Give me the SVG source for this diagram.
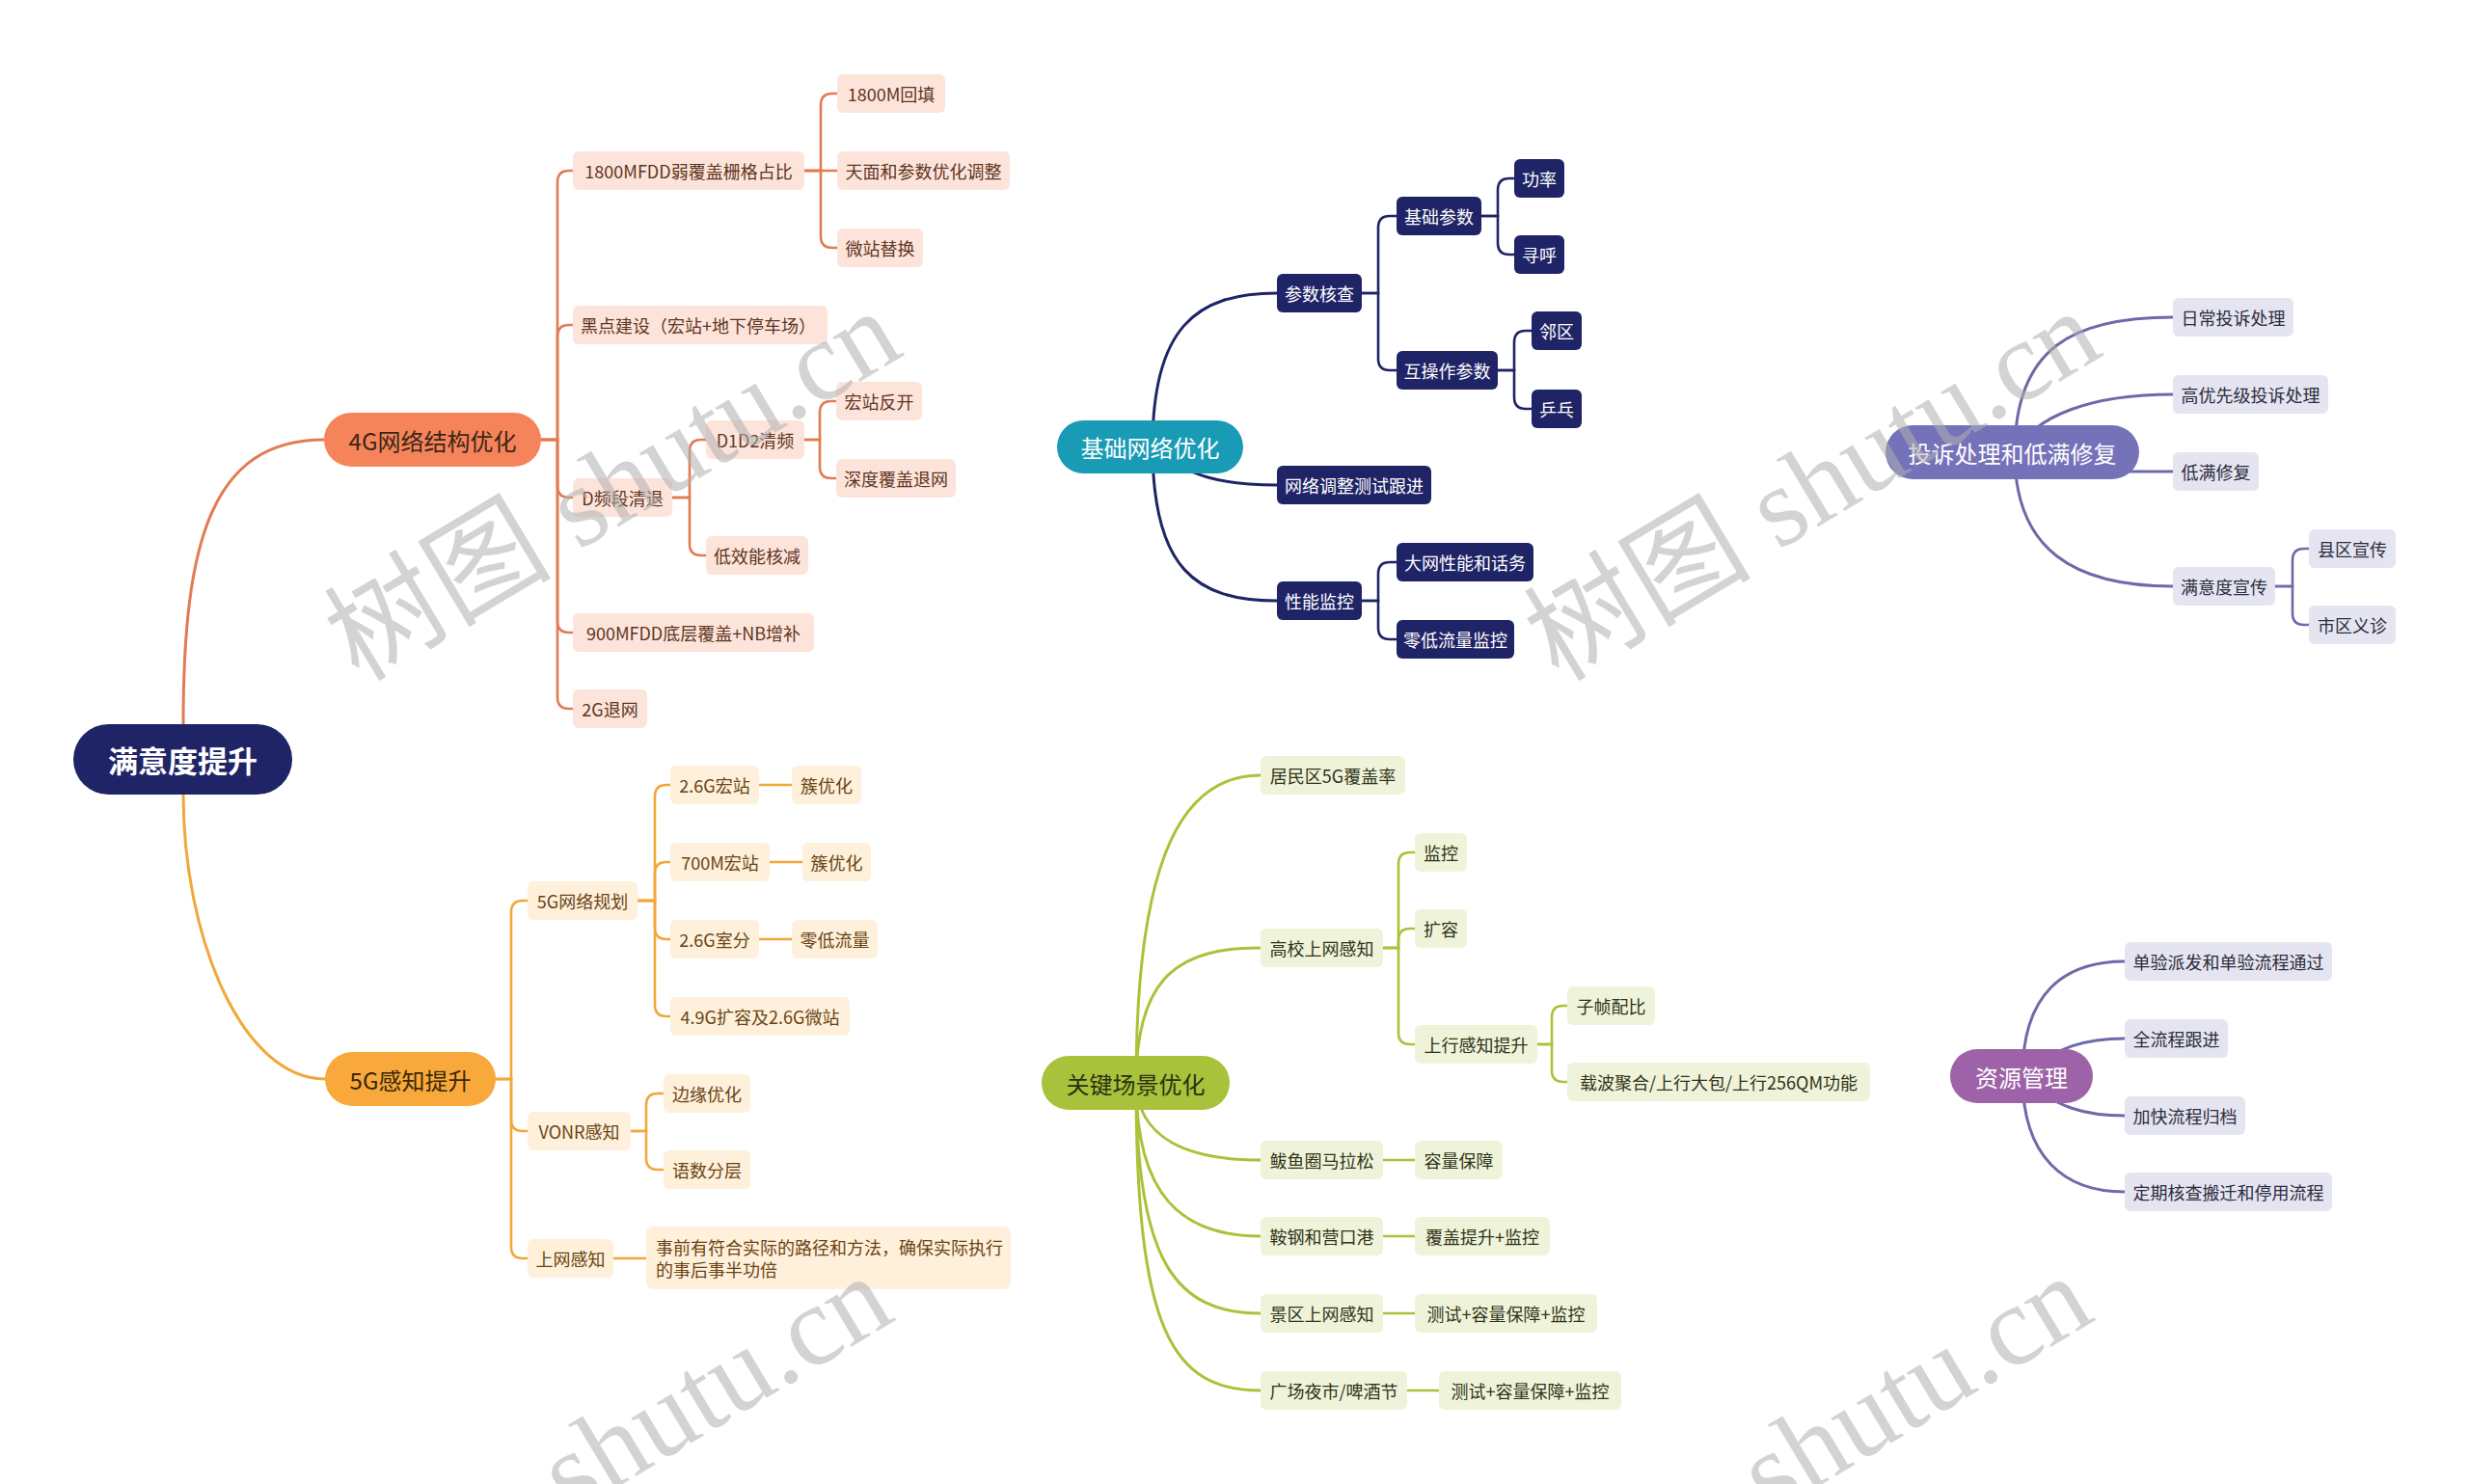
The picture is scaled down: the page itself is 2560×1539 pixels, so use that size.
<svg xmlns="http://www.w3.org/2000/svg" width="2560" height="1539" viewBox="0 0 2560 1539">
<style>
text{font-family:"Noto Sans CJK SC","Noto Sans",sans-serif;dominant-baseline:central;text-anchor:middle}
.s{font-size:18px}
.tp{font-size:24px}
.l{fill:none;stroke-width:2.6;stroke-linecap:round}
.L{fill:none;stroke-width:3;stroke-linecap:round}
.c4{stroke:#e27b52}.c5{stroke:#f2a73a}.cb{stroke:#1f2466}.ck{stroke:#a9c23a}.cp{stroke:#6d6aa9}
.f4 rect{fill:#fde4da}.f4 text{fill:#5e3522}
.f5 rect{fill:#fef0da}.f5 text{fill:#6a4414}
.fb rect{fill:#1f2466}.fb text{fill:#ffffff}
.fk rect{fill:#eff3da}.fk text{fill:#2f3318}
.fp rect{fill:#e5e4f1}.fp text{fill:#2c2c3c}
.wm{font-family:"Liberation Serif","Noto Sans CJK SC",serif;font-size:118px;fill:#b0b0b0;opacity:0.55;text-anchor:start;dominant-baseline:alphabetic}
</style>
<rect width="2560" height="1539" fill="#ffffff"/>
<g id="connectors">
<path class="L c4" d="M190,751 C190,560 220,456 336,456"/>
<path class="L c5" d="M190,824 C190,970 250,1119 337,1119"/>
<g class="l c4">
<path d="M561,456 H578 V189 Q578,177 590,177 H594"/>
<path d="M561,456 H578 V349 Q578,337 590,337 H594"/>
<path d="M561,456 H578 V504 Q578,516 590,516 H594"/>
<path d="M561,456 H578 V644 Q578,656 590,656 H594"/>
<path d="M561,456 H578 V723 Q578,735 590,735 H594"/>
<path d="M834,177 H851 V109 Q851,97 863,97 H868"/>
<path d="M834,177 H868"/>
<path d="M834,177 H851 V245 Q851,257 863,257 H868"/>
<path d="M697,516 H715 V468 Q715,456 727,456 H732"/>
<path d="M697,516 H715 V564 Q715,576 727,576 H732"/>
<path d="M834,456 H850 V428 Q850,416 862,416 H867"/>
<path d="M834,456 H850 V484 Q850,496 862,496 H867"/>
</g>
<g class="l c5">
<path d="M514,1119 H530 V946 Q530,934 542,934 H547"/>
<path d="M514,1119 H530 V1161 Q530,1173 542,1173 H547"/>
<path d="M514,1119 H530 V1293 Q530,1305 542,1305 H547"/>
<path d="M661,934 H679 V826 Q679,814 691,814 H695"/>
<path d="M661,934 H679 V906 Q679,894 691,894 H695"/>
<path d="M661,934 H679 V962 Q679,974 691,974 H695"/>
<path d="M661,934 H679 V1042 Q679,1054 691,1054 H695"/>
<path d="M787,814 H821"/>
<path d="M798,894 H832"/>
<path d="M787,974 H821"/>
<path d="M654,1173 H670 V1146 Q670,1134 682,1134 H688"/>
<path d="M654,1173 H670 V1201 Q670,1213 682,1213 H688"/>
<path d="M636,1305 H670"/>
</g>
<g class="cb">
<path class="L" d="M1195,463 C1195,340 1240,304 1324,304"/>
<path class="L" d="M1195,463 C1230,495 1270,503 1324,503"/>
<path class="L" d="M1195,463 C1195,590 1240,623 1324,623"/>
<g class="l">
<path d="M1412,304 H1429 V236 Q1429,224 1441,224 H1448"/>
<path d="M1412,304 H1429 V372 Q1429,384 1441,384 H1448"/>
<path d="M1536,224 H1553 V197 Q1553,185 1565,185 H1570"/>
<path d="M1536,224 H1553 V252 Q1553,264 1565,264 H1570"/>
<path d="M1553,384 H1570 V355 Q1570,343 1582,343 H1588"/>
<path d="M1553,384 H1570 V412 Q1570,424 1582,424 H1588"/>
<path d="M1412,623 H1429 V595 Q1429,583 1441,583 H1448"/>
<path d="M1412,623 H1429 V651 Q1429,663 1441,663 H1448"/>
</g>
</g>
<g class="ck">
<path class="L" d="M1178,1123 C1178,880 1230,804 1307,804"/>
<path class="L" d="M1178,1123 C1178,1010 1225,983 1307,983"/>
<path class="L" d="M1178,1123 C1180,1180 1230,1203 1307,1203"/>
<path class="L" d="M1178,1123 C1178,1240 1225,1282 1307,1282"/>
<path class="L" d="M1178,1123 C1178,1310 1220,1362 1307,1362"/>
<path class="L" d="M1178,1123 C1178,1380 1215,1442 1307,1442"/>
<g class="l">
<path d="M1434,983 H1450 V896 Q1450,884 1462,884 H1467"/>
<path d="M1434,983 H1450 V975 Q1450,963 1462,963 H1467"/>
<path d="M1434,983 H1450 V1071 Q1450,1083 1462,1083 H1467"/>
<path d="M1594,1083 H1609 V1055 Q1609,1043 1621,1043 H1625"/>
<path d="M1594,1083 H1609 V1110 Q1609,1122 1621,1122 H1625"/>
<path d="M1434,1203 H1467"/>
<path d="M1434,1282 H1467"/>
<path d="M1434,1362 H1467"/>
<path d="M1459,1442 H1492"/>
</g>
</g>
<g class="cp">
<path class="L" d="M2089,470 C2089,360 2150,329 2253,329"/>
<path class="L" d="M2089,470 C2110,430 2170,409 2253,409"/>
<path class="L" d="M2180,489 H2253"/>
<path class="L" d="M2089,470 C2089,570 2150,608 2253,608"/>
<path class="l" d="M2359,608 H2377 V581 Q2377,569 2389,569 H2394"/>
<path class="l" d="M2359,608 H2377 V636 Q2377,648 2389,648 H2394"/>
<path class="L" d="M2097,1116 C2097,1030 2140,997 2203,997"/>
<path class="L" d="M2097,1116 C2130,1085 2165,1077 2203,1077"/>
<path class="L" d="M2097,1116 C2130,1150 2165,1157 2203,1157"/>
<path class="L" d="M2097,1116 C2097,1200 2140,1236 2203,1236"/>
</g>
</g>

<g id="n-root"><rect x="76" y="751" width="227" height="73" rx="36.5" fill="#1f2466"/><text x="189.5" y="787.5" style="font-size:31px;font-weight:bold" fill="#ffffff">满意度提升</text></g>

<g id="n-4g"><rect x="336" y="428" width="225" height="56" rx="28" fill="#f5845a"/><text class="tp" x="448.5" y="456" fill="#3d2418">4G网络结构优化</text></g>
<g class="f4">
<g id="n-4g-1"><rect x="594" y="157" width="240" height="40" rx="6"/><text class="s" x="714" y="177">1800MFDD弱覆盖栅格占比</text></g>
<g id="n-4g-2"><rect x="594" y="317" width="264" height="40" rx="6"/><text class="s" x="724" y="337">黑点建设（宏站+地下停车场）</text></g>
<g id="n-4g-3"><rect x="594" y="496" width="103" height="40" rx="6"/><text class="s" x="645.5" y="516">D频段清退</text></g>
<g id="n-4g-4"><rect x="594" y="636" width="250" height="40" rx="6"/><text class="s" x="719" y="656">900MFDD底层覆盖+NB增补</text></g>
<g id="n-4g-5"><rect x="594" y="715" width="77" height="40" rx="6"/><text class="s" x="632.5" y="735">2G退网</text></g>
<g id="n-4g-1-1"><rect x="868" y="77" width="112" height="40" rx="6"/><text class="s" x="924" y="97">1800M回填</text></g>
<g id="n-4g-1-2"><rect x="868" y="157" width="179" height="40" rx="6"/><text class="s" x="957.5" y="177">天面和参数优化调整</text></g>
<g id="n-4g-1-3"><rect x="868" y="237" width="89" height="40" rx="6"/><text class="s" x="912.5" y="257">微站替换</text></g>
<g id="n-4g-3-1"><rect x="732" y="436" width="102" height="40" rx="6"/><text class="s" x="783" y="456">D1D2清频</text></g>
<g id="n-4g-3-2"><rect x="732" y="556" width="106" height="40" rx="6"/><text class="s" x="785" y="576">低效能核减</text></g>
<g id="n-4g-3-1-1"><rect x="867" y="396" width="89" height="40" rx="6"/><text class="s" x="911.5" y="416">宏站反开</text></g>
<g id="n-4g-3-1-2"><rect x="867" y="476" width="124" height="40" rx="6"/><text class="s" x="929" y="496">深度覆盖退网</text></g>
</g>

<g id="n-5g"><rect x="337" y="1091" width="177" height="56" rx="28" fill="#f9a93b"/><text class="tp" x="425.5" y="1119" fill="#3a2808">5G感知提升</text></g>
<g class="f5">
<g id="n-5g-1"><rect x="547" y="914" width="114" height="40" rx="6"/><text class="s" x="604" y="934">5G网络规划</text></g>
<g id="n-5g-2"><rect x="547" y="1153" width="107" height="40" rx="6"/><text class="s" x="600.5" y="1173">VONR感知</text></g>
<g id="n-5g-3"><rect x="547" y="1285" width="89" height="40" rx="6"/><text class="s" x="591.5" y="1305">上网感知</text></g>
<g id="n-5g-1-1"><rect x="695" y="794" width="92" height="40" rx="6"/><text class="s" x="741" y="814">2.6G宏站</text></g>
<g id="n-5g-1-1-1"><rect x="821" y="794" width="72" height="40" rx="6"/><text class="s" x="857" y="814">簇优化</text></g>
<g id="n-5g-1-2"><rect x="695" y="874" width="103" height="40" rx="6"/><text class="s" x="746.5" y="894">700M宏站</text></g>
<g id="n-5g-1-2-1"><rect x="832" y="874" width="71" height="40" rx="6"/><text class="s" x="867.5" y="894">簇优化</text></g>
<g id="n-5g-1-3"><rect x="695" y="954" width="92" height="40" rx="6"/><text class="s" x="741" y="974">2.6G室分</text></g>
<g id="n-5g-1-3-1"><rect x="821" y="954" width="89" height="40" rx="6"/><text class="s" x="865.5" y="974">零低流量</text></g>
<g id="n-5g-1-4"><rect x="695" y="1034" width="186" height="40" rx="6"/><text class="s" x="788" y="1054">4.9G扩容及2.6G微站</text></g>
<g id="n-5g-2-1"><rect x="688" y="1114" width="90" height="40" rx="6"/><text class="s" x="733" y="1134">边缘优化</text></g>
<g id="n-5g-2-2"><rect x="688" y="1193" width="90" height="40" rx="6"/><text class="s" x="733" y="1213">语数分层</text></g>
<g id="n-5g-3-1"><rect x="670" y="1272" width="378" height="65" rx="7"/><text class="s" x="680" y="1293" style="text-anchor:start">事前有符合实际的路径和方法，确保实际执行</text><text class="s" x="680" y="1316" style="text-anchor:start">的事后事半功倍</text></g>
</g>

<g id="n-base"><rect x="1096" y="436" width="193" height="55" rx="27.5" fill="#1a9bb5"/><text class="tp" x="1192.5" y="463.5" fill="#ffffff">基础网络优化</text></g>
<g class="fb">
<g id="n-base-1"><rect x="1324" y="284" width="88" height="40" rx="6"/><text class="s" x="1368" y="304">参数核查</text></g>
<g id="n-base-2"><rect x="1324" y="483" width="160" height="40" rx="6"/><text class="s" x="1404" y="503">网络调整测试跟进</text></g>
<g id="n-base-3"><rect x="1324" y="603" width="88" height="40" rx="6"/><text class="s" x="1368" y="623">性能监控</text></g>
<g id="n-base-1-1"><rect x="1448" y="204" width="88" height="40" rx="6"/><text class="s" x="1492" y="224">基础参数</text></g>
<g id="n-base-1-2"><rect x="1448" y="364" width="105" height="40" rx="6"/><text class="s" x="1500.5" y="384">互操作参数</text></g>
<g id="n-base-1-1-1"><rect x="1570" y="165" width="52" height="40" rx="6"/><text class="s" x="1596" y="185">功率</text></g>
<g id="n-base-1-1-2"><rect x="1570" y="244" width="52" height="40" rx="6"/><text class="s" x="1596" y="264">寻呼</text></g>
<g id="n-base-1-2-1"><rect x="1588" y="323" width="52" height="40" rx="6"/><text class="s" x="1614" y="343">邻区</text></g>
<g id="n-base-1-2-2"><rect x="1588" y="404" width="52" height="40" rx="6"/><text class="s" x="1614" y="424">乒乓</text></g>
<g id="n-base-3-1"><rect x="1448" y="563" width="142" height="40" rx="6"/><text class="s" x="1519" y="583">大网性能和话务</text></g>
<g id="n-base-3-2"><rect x="1448" y="643" width="122" height="40" rx="6"/><text class="s" x="1509" y="663">零低流量监控</text></g>
</g>

<g id="n-key"><rect x="1080" y="1095" width="195" height="56" rx="28" fill="#a9c23b"/><text class="tp" x="1177.5" y="1123" fill="#2c3010">关键场景优化</text></g>
<g class="fk">
<g id="n-key-1"><rect x="1307" y="784" width="150" height="40" rx="6"/><text class="s" x="1382" y="804">居民区5G覆盖率</text></g>
<g id="n-key-2"><rect x="1307" y="963" width="127" height="40" rx="6"/><text class="s" x="1370.5" y="983">高校上网感知</text></g>
<g id="n-key-2-1"><rect x="1467" y="864" width="54" height="40" rx="6"/><text class="s" x="1494" y="884">监控</text></g>
<g id="n-key-2-2"><rect x="1467" y="943" width="54" height="40" rx="6"/><text class="s" x="1494" y="963">扩容</text></g>
<g id="n-key-2-3"><rect x="1467" y="1063" width="127" height="40" rx="6"/><text class="s" x="1530.5" y="1083">上行感知提升</text></g>
<g id="n-key-2-3-1"><rect x="1625" y="1023" width="91" height="40" rx="6"/><text class="s" x="1670.5" y="1043">子帧配比</text></g>
<g id="n-key-2-3-2"><rect x="1625" y="1102" width="314" height="40" rx="6"/><text class="s" x="1782" y="1122">载波聚合/上行大包/上行256QM功能</text></g>
<g id="n-key-3"><rect x="1307" y="1183" width="127" height="40" rx="6"/><text class="s" x="1370.5" y="1203">鲅鱼圈马拉松</text></g>
<g id="n-key-3-1"><rect x="1467" y="1183" width="91" height="40" rx="6"/><text class="s" x="1512.5" y="1203">容量保障</text></g>
<g id="n-key-4"><rect x="1307" y="1262" width="127" height="40" rx="6"/><text class="s" x="1370.5" y="1282">鞍钢和营口港</text></g>
<g id="n-key-4-1"><rect x="1467" y="1262" width="140" height="40" rx="6"/><text class="s" x="1537" y="1282">覆盖提升+监控</text></g>
<g id="n-key-5"><rect x="1307" y="1342" width="127" height="40" rx="6"/><text class="s" x="1370.5" y="1362">景区上网感知</text></g>
<g id="n-key-5-1"><rect x="1467" y="1342" width="189" height="40" rx="6"/><text class="s" x="1561.5" y="1362">测试+容量保障+监控</text></g>
<g id="n-key-6"><rect x="1307" y="1422" width="152" height="40" rx="6"/><text class="s" x="1383" y="1442">广场夜市/啤酒节</text></g>
<g id="n-key-6-1"><rect x="1492" y="1422" width="189" height="40" rx="6"/><text class="s" x="1586.5" y="1442">测试+容量保障+监控</text></g>
</g>

<g id="n-comp"><rect x="1955" y="441" width="263" height="56" rx="28" fill="#7672b9"/><text class="tp" x="2086.5" y="469" fill="#ffffff">投诉处理和低满修复</text></g>
<g class="fp">
<g id="n-comp-1"><rect x="2253" y="309" width="125" height="40" rx="6"/><text class="s" x="2315.5" y="329">日常投诉处理</text></g>
<g id="n-comp-2"><rect x="2253" y="389" width="161" height="40" rx="6"/><text class="s" x="2333.5" y="409">高优先级投诉处理</text></g>
<g id="n-comp-3"><rect x="2253" y="469" width="89" height="40" rx="6"/><text class="s" x="2297.5" y="489">低满修复</text></g>
<g id="n-comp-4"><rect x="2253" y="588" width="106" height="40" rx="6"/><text class="s" x="2306" y="608">满意度宣传</text></g>
<g id="n-comp-4-1"><rect x="2394" y="549" width="90" height="40" rx="6"/><text class="s" x="2439" y="569">县区宣传</text></g>
<g id="n-comp-4-2"><rect x="2394" y="628" width="90" height="40" rx="6"/><text class="s" x="2439" y="648">市区义诊</text></g>
</g>

<g id="n-res"><rect x="2022" y="1088" width="148" height="56" rx="28" fill="#9e62a8"/><text class="tp" x="2096" y="1116" fill="#ffffff">资源管理</text></g>
<g class="fp">
<g id="n-res-1"><rect x="2203" y="977" width="215" height="40" rx="6"/><text class="s" x="2310.5" y="997">单验派发和单验流程通过</text></g>
<g id="n-res-2"><rect x="2203" y="1057" width="107" height="40" rx="6"/><text class="s" x="2256.5" y="1077">全流程跟进</text></g>
<g id="n-res-3"><rect x="2203" y="1137" width="125" height="40" rx="6"/><text class="s" x="2265.5" y="1157">加快流程归档</text></g>
<g id="n-res-4"><rect x="2203" y="1216" width="215" height="40" rx="6"/><text class="s" x="2310.5" y="1236">定期核查搬迁和停用流程</text></g>
</g>

<g id="watermarks">
<text class="wm" transform="translate(372,708) rotate(-31)">树图 shutu.cn</text>
<text class="wm" transform="translate(1616,708) rotate(-31)">树图 shutu.cn</text>
<text class="wm" transform="translate(591,1572) rotate(-31)">shutu.cn</text>
<text class="wm" transform="translate(1835,1572) rotate(-31)">shutu.cn</text>
</g>
</svg>
